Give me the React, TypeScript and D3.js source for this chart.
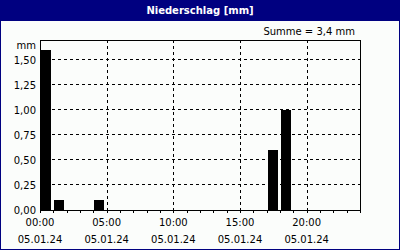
import React from "react";
import * as d3 from "d3";

const hours = [0, 1, 4, 17, 18];
const values = [1.6, 0.1, 0.1, 0.6, 1.0];
const yTicks = [0, 0.25, 0.5, 0.75, 1.0, 1.25, 1.5];
const xTicks = [0, 5, 10, 15, 20];
const xTimeLabels = ["00:00", "05:00", "10:00", "15:00", "20:00"];
const dateLabel = "05.01.24";
const title = "Niederschlag [mm]";
const sumLabel = "Summe = 3,4 mm";
const unitLabel = "mm";

const W = 400, H = 250;
const L = 40, R = 360, T = 40, B = 210;
const font = "'DejaVu Sans', Verdana, sans-serif";

export default function App() {
  const x = d3.scaleLinear().domain([0, 24]).range([L, R]);
  const y = d3.scaleLinear().domain([0, 1.7]).range([B, T]);
  const fmt = (v: number) => d3.format(".2f")(v).replace(".", ",");
  const minor = d3.range(0, 25);
  return (
    <svg width={W} height={H} style={{ position: "absolute", left: 0, top: 0 }} shapeRendering="crispEdges">
      <rect x={0} y={0} width={W} height={H} fill="#fbfdfb" />
      <rect x={0.5} y={0.5} width={W - 1} height={H - 1} fill="none" stroke="#000080" />
      <rect x={0} y={0} width={W} height={21} fill="#000080" />
      <text x={W / 2} y={14} textAnchor="middle" fill="#fff" fontFamily={font} fontWeight="bold" fontSize={10}>{title}</text>
      <text x={355} y={35} textAnchor="end" fill="#000" fontFamily={font} fontSize={10}>{sumLabel}</text>
      {/* grid */}
      {yTicks.filter(v => v > 0).map(v => (
        <line key={"gy" + v} x1={L} x2={R} y1={Math.round(y(v)) - 0.5} y2={Math.round(y(v)) - 0.5} stroke="#000" strokeDasharray="3,3" />
      ))}
      {xTicks.filter(v => v > 0).map(v => (
        <line key={"gx" + v} x1={Math.round(x(v)) + 0.5} x2={Math.round(x(v)) + 0.5} y1={T} y2={B} stroke="#000" strokeDasharray="3,3" />
      ))}
      {/* bars */}
      {hours.map((h, i) => (
        <rect key={"b" + h} x={Math.round(x(h)) + 1} y={Math.round(y(values[i]))} width={10} height={B - Math.round(y(values[i]))} fill="#000" />
      ))}
      {/* frame */}
      <rect x={L + 0.5} y={T + 0.5} width={R - L} height={B - T} fill="none" stroke="#000" />
      {/* minor ticks */}
      {minor.map(h => (
        <line key={"t" + h} x1={Math.round(x(h)) + 0.5} x2={Math.round(x(h)) + 0.5} y1={B} y2={B + 3} stroke="#000" />
      ))}
      {/* y labels */}
      <text x={36} y={49} textAnchor="end" fontFamily={font} fontSize={10} fill="#000">{unitLabel}</text>
      {yTicks.map(v => (
        <text key={"yl" + v} x={36} y={y(v) + 4} textAnchor="end" fontFamily={font} fontSize={10} fill="#000">{fmt(v)}</text>
      ))}
      {xTicks.map((v, i) => (
        <g key={"xl" + v}>
          <text x={x(v)} y={226} textAnchor="middle" fontFamily={font} fontSize={10} fill="#000">{xTimeLabels[i]}</text>
          <text x={x(v)} y={243} textAnchor="middle" fontFamily={font} fontSize={10} fill="#000">{dateLabel}</text>
        </g>
      ))}
    </svg>
  );
}
